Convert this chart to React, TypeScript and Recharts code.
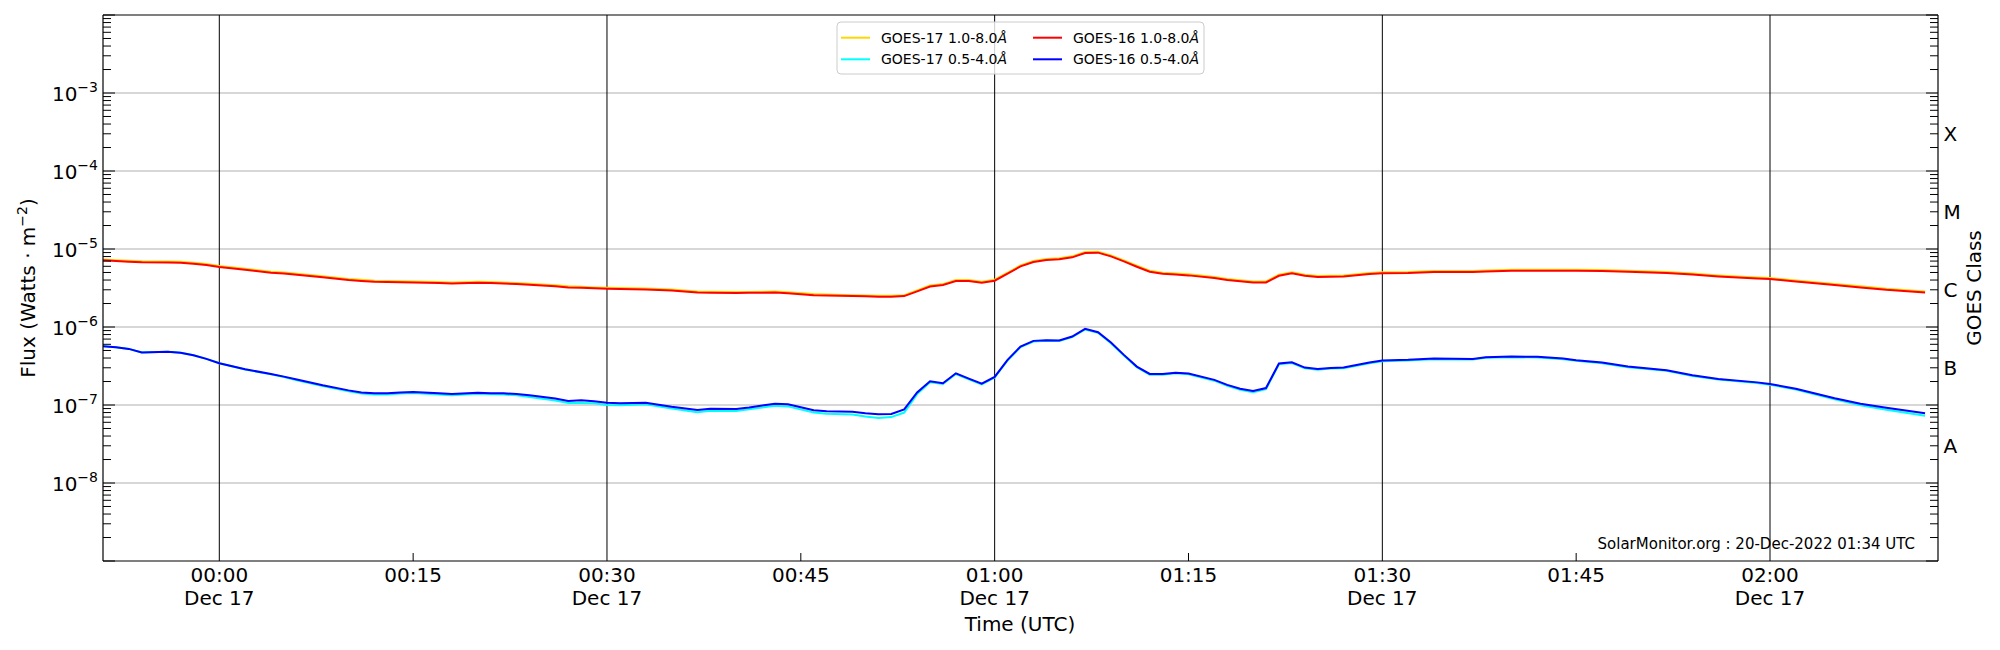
import React from "react";
import { LineChart, Line, XAxis, YAxis, CartesianGrid } from "recharts";

const FONT = "'DejaVu Sans', 'Liberation Sans', sans-serif";

// minutes after 00:00 UT, 17 Dec 2022
const minutes = [
  -9, -8, -7, -6, -4, -3, -2, -1, 0, 2,
  4, 5, 6, 8, 10, 11, 12, 13, 14, 15,
  17, 18, 20, 21, 22, 23, 24, 26, 27, 28,
  29, 30, 31, 33, 35, 37, 38, 40, 41, 43,
  44, 46, 47, 49, 50, 51, 52, 53, 54, 55,
  56, 57, 58, 59, 60, 61, 62, 63, 64, 65,
  66, 67, 68, 69, 70, 71, 72, 73, 74, 75,
  77, 78, 79, 80, 81, 82, 83, 84, 85, 86,
  87, 89, 90, 92, 94, 97, 98, 100, 102, 104,
  105, 107, 109, 112, 114, 116, 119, 120, 122, 125,
  127, 129, 132,
];

// GOES-17 1.0-8.0 A, units of 1e-6 W/m^2
const goes17Long = [
  7.35, 7.2, 7.05, 6.94, 6.9, 6.88, 6.67, 6.42, 6.05, 5.6,
  5.12, 5.0, 4.82, 4.46, 4.12, 4.02, 3.91, 3.88, 3.86, 3.84,
  3.77, 3.73, 3.8, 3.77, 3.71, 3.66, 3.58, 3.43, 3.32, 3.28,
  3.22, 3.18, 3.16, 3.11, 3.02, 2.85, 2.83, 2.8, 2.82, 2.85,
  2.78, 2.64, 2.61, 2.56, 2.54, 2.52, 2.51, 2.56, 2.95, 3.41,
  3.55, 4.0, 4.0, 3.8, 4.04, 4.96, 6.17, 7.01, 7.44, 7.59,
  8.05, 9.16, 9.25, 8.29, 7.15, 6.11, 5.26, 4.96, 4.84, 4.73,
  4.37, 4.12, 3.97, 3.84, 3.84, 4.68, 5.02, 4.68, 4.5, 4.53,
  4.58, 4.91, 5.02, 5.06, 5.21, 5.21, 5.3, 5.43, 5.43, 5.42,
  5.41, 5.38, 5.25, 5.06, 4.84, 4.58, 4.31, 4.24, 3.96, 3.55,
  3.32, 3.09, 2.85,
];

// GOES-17 0.5-4.0 A, units of 1e-7 W/m^2
const goes17Short = [
  5.67, 5.5, 5.24, 4.7, 4.8, 4.66, 4.35, 3.9, 3.43, 2.85,
  2.47, 2.28, 2.08, 1.75, 1.5, 1.4, 1.36, 1.36, 1.4, 1.42,
  1.36, 1.33, 1.39, 1.37, 1.36, 1.33, 1.27, 1.14, 1.06, 1.06,
  1.05, 1.0, 0.99, 1.02, 0.9, 0.81, 0.845, 0.84, 0.88, 0.98,
  0.96, 0.8, 0.775, 0.755, 0.71, 0.68, 0.7, 0.8, 1.38, 1.96,
  1.86, 2.5, 2.14, 1.84, 2.25, 3.72, 5.52, 6.52, 6.65, 6.6,
  7.42, 9.3, 8.43, 6.2, 4.3, 3.05, 2.45, 2.45, 2.55, 2.48,
  2.05, 1.76, 1.57, 1.46, 1.6, 3.33, 3.46, 2.96, 2.84, 2.93,
  2.96, 3.43, 3.64, 3.72, 3.86, 3.82, 4.02, 4.1, 4.06, 3.86,
  3.68, 3.43, 3.05, 2.74, 2.35, 2.12, 1.91, 1.82, 1.58, 1.18,
  0.99, 0.87, 0.73,
];

// GOES-16 1.0-8.0 A, units of 1e-6 W/m^2
const goes16Long = [
  7.15, 7.0, 6.85, 6.74, 6.7, 6.68, 6.48, 6.23, 5.87, 5.43,
  4.97, 4.85, 4.68, 4.33, 4.0, 3.9, 3.8, 3.77, 3.75, 3.73,
  3.66, 3.62, 3.69, 3.66, 3.6, 3.55, 3.48, 3.33, 3.22, 3.18,
  3.13, 3.09, 3.07, 3.02, 2.93, 2.77, 2.75, 2.72, 2.74, 2.77,
  2.7, 2.56, 2.53, 2.49, 2.47, 2.45, 2.44, 2.49, 2.86, 3.31,
  3.45, 3.88, 3.88, 3.69, 3.92, 4.82, 5.99, 6.81, 7.22, 7.37,
  7.82, 8.89, 8.98, 8.05, 6.94, 5.93, 5.11, 4.82, 4.7, 4.59,
  4.24, 4.0, 3.85, 3.73, 3.73, 4.54, 4.87, 4.54, 4.37, 4.4,
  4.45, 4.77, 4.87, 4.91, 5.06, 5.06, 5.15, 5.27, 5.27, 5.26,
  5.25, 5.22, 5.1, 4.91, 4.7, 4.45, 4.18, 4.12, 3.84, 3.45,
  3.22, 3.0, 2.77,
];

// GOES-16 0.5-4.0 A, units of 1e-7 W/m^2
const goes16Short = [
  5.67, 5.5, 5.24, 4.7, 4.8, 4.66, 4.35, 3.9, 3.43, 2.87,
  2.5, 2.31, 2.12, 1.79, 1.54, 1.45, 1.41, 1.41, 1.45, 1.47,
  1.41, 1.38, 1.44, 1.41, 1.41, 1.38, 1.33, 1.21, 1.125, 1.15,
  1.12, 1.07, 1.05, 1.07, 0.952, 0.863, 0.897, 0.888, 0.93, 1.04,
  1.02, 0.854, 0.829, 0.82, 0.782, 0.759, 0.766, 0.88, 1.45, 2.01,
  1.9, 2.55, 2.18, 1.88, 2.29, 3.79, 5.62, 6.64, 6.77, 6.72,
  7.55, 9.47, 8.58, 6.32, 4.39, 3.11, 2.5, 2.5, 2.6, 2.53,
  2.1, 1.81, 1.62, 1.51, 1.65, 3.4, 3.53, 3.02, 2.9, 2.99,
  3.02, 3.5, 3.71, 3.79, 3.94, 3.9, 4.1, 4.18, 4.14, 3.94,
  3.75, 3.5, 3.11, 2.79, 2.4, 2.16, 1.95, 1.86, 1.62, 1.22,
  1.04, 0.924, 0.782,
];

const seriesKeys = ["g17l", "g17s", "g16l", "g16s"];
const seriesNames = ["GOES-17 1.0-8.0", "GOES-17 0.5-4.0", "GOES-16 1.0-8.0", "GOES-16 0.5-4.0"];
const seriesColors = ["#ffd700", "#00ffff", "#ff0000", "#0000ff"];

const xTicks = [0, 15, 30, 45, 60, 75, 90, 105, 120];
const xTickLabels = ["00:00", "00:15", "00:30", "00:45", "01:00", "01:15", "01:30", "01:45", "02:00"];
const xMajorTicks = [0, 30, 60, 90, 120];
const dateLabel = "Dec 17";
const xDomain = [-9, 133];

const decadeExponents = [-9, -8, -7, -6, -5, -4, -3, -2];
const labeledExponents = [-8, -7, -6, -5, -4, -3];
const labeledExponentText = ["−8", "−7", "−6", "−5", "−4", "−3"];
const gridExponents = [-8, -7, -6, -5, -4, -3];
const classLabels = ["A", "B", "C", "M", "X"];
const classExponents = [-7.5, -6.5, -5.5, -4.5, -3.5];
const yDomain = [1e-9, 1e-2];

const xAxisTitle = "Time (UTC)";
const yAxisTitle = "Flux (Watts · m";
const rightAxisTitle = "GOES Class";
const watermark = "SolarMonitor.org : 20-Dec-2022 01:34 UTC";

const data = minutes.map((t, i) => ({
  t,
  g17l: goes17Long[i] * 1e-6,
  g17s: goes17Short[i] * 1e-7,
  g16l: goes16Long[i] * 1e-6,
  g16s: goes16Short[i] * 1e-7,
}));

const decadeValues = decadeExponents.map((e) => Math.pow(10, e));
const minorValues: number[] = [];
decadeExponents.slice(0, -1).forEach((e) => {
  [2, 3, 4, 5, 6, 7, 8, 9].forEach((k) => minorValues.push(k * Math.pow(10, e)));
});
const gridValues = gridExponents.map((e) => Math.pow(10, e));
const classValues = classExponents.map((e) => Math.pow(10, e));
const leftTicks = [...decadeValues, ...minorValues];
const rightTicks = [...decadeValues, ...minorValues, ...classValues];

const isDecade = (v: number) => {
  const lg = Math.log10(v);
  return Math.abs(lg - Math.round(lg)) < 1e-6;
};
const halfIndex = (v: number) => {
  const lg = Math.log10(v);
  return classExponents.findIndex((c) => Math.abs(c - lg) < 1e-6);
};

const XTick = (props: any) => {
  const { x, y, payload } = props;
  const m = payload.value;
  const idx = xTicks.indexOf(m);
  const major = xMajorTicks.includes(m);
  return (
    <g>
      {!major && <line x1={x} x2={x} y1={y} y2={y - 8} stroke="#000" strokeWidth={1} />}
      <text x={x} y={y + 21} textAnchor="middle" fontSize={20} fontFamily={FONT} fill="#000">
        {xTickLabels[idx]}
      </text>
      {major && (
        <text x={x} y={y + 43.5} textAnchor="middle" fontSize={20} fontFamily={FONT} fill="#000">
          {dateLabel}
        </text>
      )}
    </g>
  );
};

const LeftTick = (props: any) => {
  const { x, y, payload } = props;
  const v = payload.value;
  const major = isDecade(v);
  const e = Math.round(Math.log10(v));
  const li = labeledExponents.indexOf(e);
  return (
    <g>
      <line x1={x} x2={x + (major ? 12 : 8)} y1={y} y2={y} stroke="#000" strokeWidth={1} />
      {major && li >= 0 && (
        <text x={x - 5} y={y + 7.5} textAnchor="end" fontSize={20} fontFamily={FONT} fill="#000">
          <tspan>10</tspan>
          <tspan dy={-8.5} fontSize={14}>
            {labeledExponentText[li]}
          </tspan>
        </text>
      )}
    </g>
  );
};

const RightTick = (props: any) => {
  const { x, y, payload } = props;
  const v = payload.value;
  const hi = halfIndex(v);
  if (hi >= 0) {
    return (
      <text x={x + 5.5} y={y + 9} textAnchor="start" fontSize={20} fontFamily={FONT} fill="#000">
        {classLabels[hi]}
      </text>
    );
  }
  const major = isDecade(v);
  return <line x1={x} x2={x - (major ? 12 : 8)} y1={y} y2={y} stroke="#000" strokeWidth={1} />;
};

const legendCols = [841, 1033];
const legendRows = [37.7, 59.3];

export default function App() {
  return (
    <div style={{ position: "absolute", left: 0, top: 0, width: 2000, height: 650, background: "#fff" }}>
      <LineChart
        width={2000}
        height={650}
        data={data}
        margin={{ top: 14, right: 61, bottom: 88, left: 102 }}
      >
        <CartesianGrid
          horizontal={true}
          vertical={false}
          horizontalValues={gridValues}
          stroke="#b0b0b0"
          strokeWidth={1.1}
        />
        <CartesianGrid
          horizontal={false}
          vertical={true}
          verticalValues={xMajorTicks}
          stroke="#000"
          strokeWidth={1}
        />
        <XAxis
          dataKey="t"
          type="number"
          domain={xDomain}
          allowDataOverflow
          ticks={xTicks}
          interval={0}
          height={1}
          tickSize={0}
          tickMargin={0}
          tickLine={false}
          axisLine={{ stroke: "#000", strokeWidth: 1.2 }}
          tick={(p: any) => <XTick {...p} />}
        />
        <XAxis
          xAxisId="top"
          orientation="top"
          type="number"
          domain={xDomain}
          allowDataOverflow
          height={1}
          tick={false}
          tickLine={false}
          axisLine={{ stroke: "#000", strokeWidth: 1.2 }}
        />
        <YAxis
          type="number"
          scale="log"
          domain={yDomain}
          allowDataOverflow
          ticks={leftTicks}
          interval={0}
          width={1}
          tickSize={0}
          tickMargin={0}
          tickLine={false}
          axisLine={{ stroke: "#000", strokeWidth: 1.2 }}
          tick={(p: any) => <LeftTick {...p} />}
        />
        <YAxis
          yAxisId="right"
          orientation="right"
          type="number"
          scale="log"
          domain={yDomain}
          allowDataOverflow
          ticks={rightTicks}
          interval={0}
          width={1}
          tickSize={0}
          tickMargin={0}
          tickLine={false}
          axisLine={{ stroke: "#000", strokeWidth: 1.2 }}
          tick={(p: any) => <RightTick {...p} />}
        />
        {seriesKeys.map((k, i) => (
          <Line
            key={k}
            dataKey={k}
            name={seriesNames[i]}
            type="linear"
            stroke={seriesColors[i]}
            strokeWidth={2}
            dot={false}
            activeDot={false}
            isAnimationActive={false}
          />
        ))}
      </LineChart>
      <svg
        width={2000}
        height={650}
        style={{ position: "absolute", left: 0, top: 0, pointerEvents: "none" }}
        fontFamily={FONT}
      >
        <text
          transform="translate(35,288) rotate(-90)"
          textAnchor="middle"
          fontSize={20}
          fill="#000"
        >
          <tspan>{yAxisTitle}</tspan>
          <tspan dy={-8.5} fontSize={14}>−2</tspan>
          <tspan dy={8.5}>)</tspan>
        </text>
        <text transform="translate(1981,288) rotate(-90)" textAnchor="middle" fontSize={20} fill="#000">
          {rightAxisTitle}
        </text>
        <text x={1020} y={631} textAnchor="middle" fontSize={20} fill="#000">
          {xAxisTitle}
        </text>
        <text x={1915} y={548.5} textAnchor="end" fontSize={15} fill="#000">
          {watermark}
        </text>
        <rect
          x={837}
          y={22}
          width={367}
          height={52}
          rx={4}
          fill="#fff"
          fillOpacity={0.8}
          stroke="#cccccc"
          strokeWidth={1}
        />
        {seriesNames.map((name, i) => {
          const col = Math.floor(i / 2);
          const row = i % 2;
          const lx = legendCols[col];
          const ly = legendRows[row];
          return (
            <g key={name}>
              <line x1={lx} x2={lx + 29} y1={ly} y2={ly} stroke={seriesColors[i]} strokeWidth={2} />
              <text x={lx + 40} y={ly + 5.1} fontSize={14} fill="#000">
                {name}
                <tspan fontStyle="italic">Å</tspan>
              </text>
            </g>
          );
        })}
      </svg>
    </div>
  );
}
